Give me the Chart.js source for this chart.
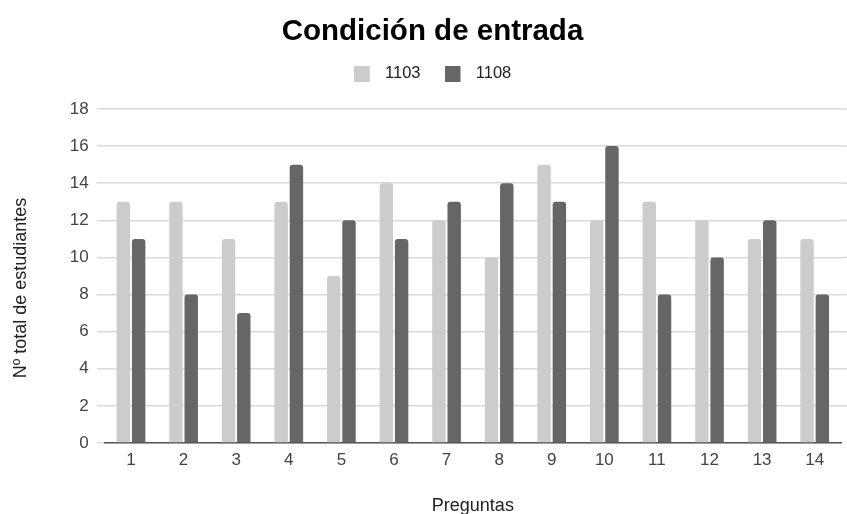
<!DOCTYPE html>
<html><head><meta charset="utf-8">
<script src="https://cdn.jsdelivr.net/npm/chart.js@4"></script>
<style>html,body{margin:0;padding:0;background:#fff}#w{width:847px;height:514px}</style>
</head><body><div id="w"><canvas id="c" width="847" height="514"></canvas></div>
<script>
const categories = ['1','2','3','4','5','6','7','8','9','10','11','12','13','14'];
const series1103 = [13,13,11,13,9,14,12,10,15,12,13,12,11,11];
const series1108 = [11,8,7,15,12,11,13,14,13,16,8,10,12,8];
const yTicks = [0,2,4,6,8,10,12,14,16,18];
const seriesColors = ['#cccccc', '#666666'];
const FONT = "Arial, 'Liberation Sans', sans-serif";

function legendSwatch(color){
  const cv = document.createElement('canvas');
  cv.width = 23; cv.height = 16;
  const g = cv.getContext('2d');
  g.fillStyle = color; g.fillRect(0, 0, 16, 16);
  return cv;
}
const swatches = seriesColors.map(legendSwatch);

const legendSpace = {
  id:'legendSpace',
  beforeLayout(chart){
    const lg = chart.legend;
    if (lg && !lg._wrapped){
      const f = lg.fit.bind(lg);
      lg.fit = function(){ f(); this.height += 17.25; };
      lg._wrapped = true;
    }
  }
};
const gridExtend = {
  id:'gridExtend',
  beforeDatasetsDraw(chart){
    const {ctx, chartArea, scales} = chart;
    ctx.save();
    ctx.strokeStyle = '#dadada'; ctx.lineWidth = 1.5;
    yTicks.forEach(v => {
      if (v === 0) return;
      const y = scales.y.getPixelForValue(v);
      ctx.beginPath(); ctx.moveTo(chartArea.right, y); ctx.lineTo(chart.width, y); ctx.stroke();
    });
    ctx.restore();
  }
};

new Chart(document.getElementById('c'), {
  type: 'bar',
  plugins:[legendSpace, gridExtend],
  data: {
    labels: categories,
    datasets: [
      {label:'1103', data: series1103, backgroundColor:seriesColors[0], borderRadius:{topLeft:3,topRight:3}, borderSkipped:'bottom', categoryPercentage:0.58, barPercentage:0.88},
      {label:'1108', data: series1108, backgroundColor:seriesColors[1], borderRadius:{topLeft:3,topRight:3}, borderSkipped:'bottom', categoryPercentage:0.58, barPercentage:0.88}
    ]
  },
  options: {
    responsive:false, animation:false, devicePixelRatio:1,
    layout:{padding:{left:24,right:6,top:0,bottom:0}},
    plugins:{
      title:{display:true, text:'Condición de entrada', color:'#000', font:{family:FONT, size:29.5, weight:'bold'}, padding:{top:14,bottom:-8.15}},
      legend:{labels:{
        usePointStyle:true, pointStyleWidth:23, boxHeight:16,
        color:'#222', font:{family:FONT,size:16.5}, padding:24,
        generateLabels:(chart)=>{
          const items = Chart.defaults.plugins.legend.labels.generateLabels(chart);
          items.forEach((it,i)=>{ it.pointStyle = swatches[i]; });
          return items;
        }
      }},
      tooltip:{enabled:false}
    },
    scales:{
      x:{
        afterFit:(s)=>{ s.height = 71; },
        grid:{display:false, drawTicks:false},
        border:{display:true, color:'#555', width:1.5},
        ticks:{color:'#444', font:{family:FONT,size:17}, padding:7},
        title:{display:true, text:'Preguntas', color:'#222', font:{family:FONT,size:18}, padding:{top:0,bottom:-3}}
      },
      y:{
        min:0, max:18,
        afterFit:(s)=>{
          s.width = 80.7;
          if (!s._titleShifted){
            const orig = s.drawTitle.bind(s);
            s.drawTitle = function(){ const c = this.ctx; c.save(); c.translate(0, 12); orig(); c.restore(); };
            s._titleShifted = true;
          }
        },
        afterBuildTicks:(ax)=>{ax.ticks = yTicks.map(v=>({value:v}));},
        grid:{color:'#dadada', lineWidth:1.5, drawTicks:true, tickLength:8, tickColor:'#dadada'},
        border:{display:false},
        ticks:{color:'#444', font:{family:FONT,size:17}, padding:8},
        title:{display:true, text:'Nº total de estudiantes', color:'#222', font:{family:FONT,size:18}, padding:{top:-14,bottom:0}}
      }
    }
  }
});
</script></body></html>
